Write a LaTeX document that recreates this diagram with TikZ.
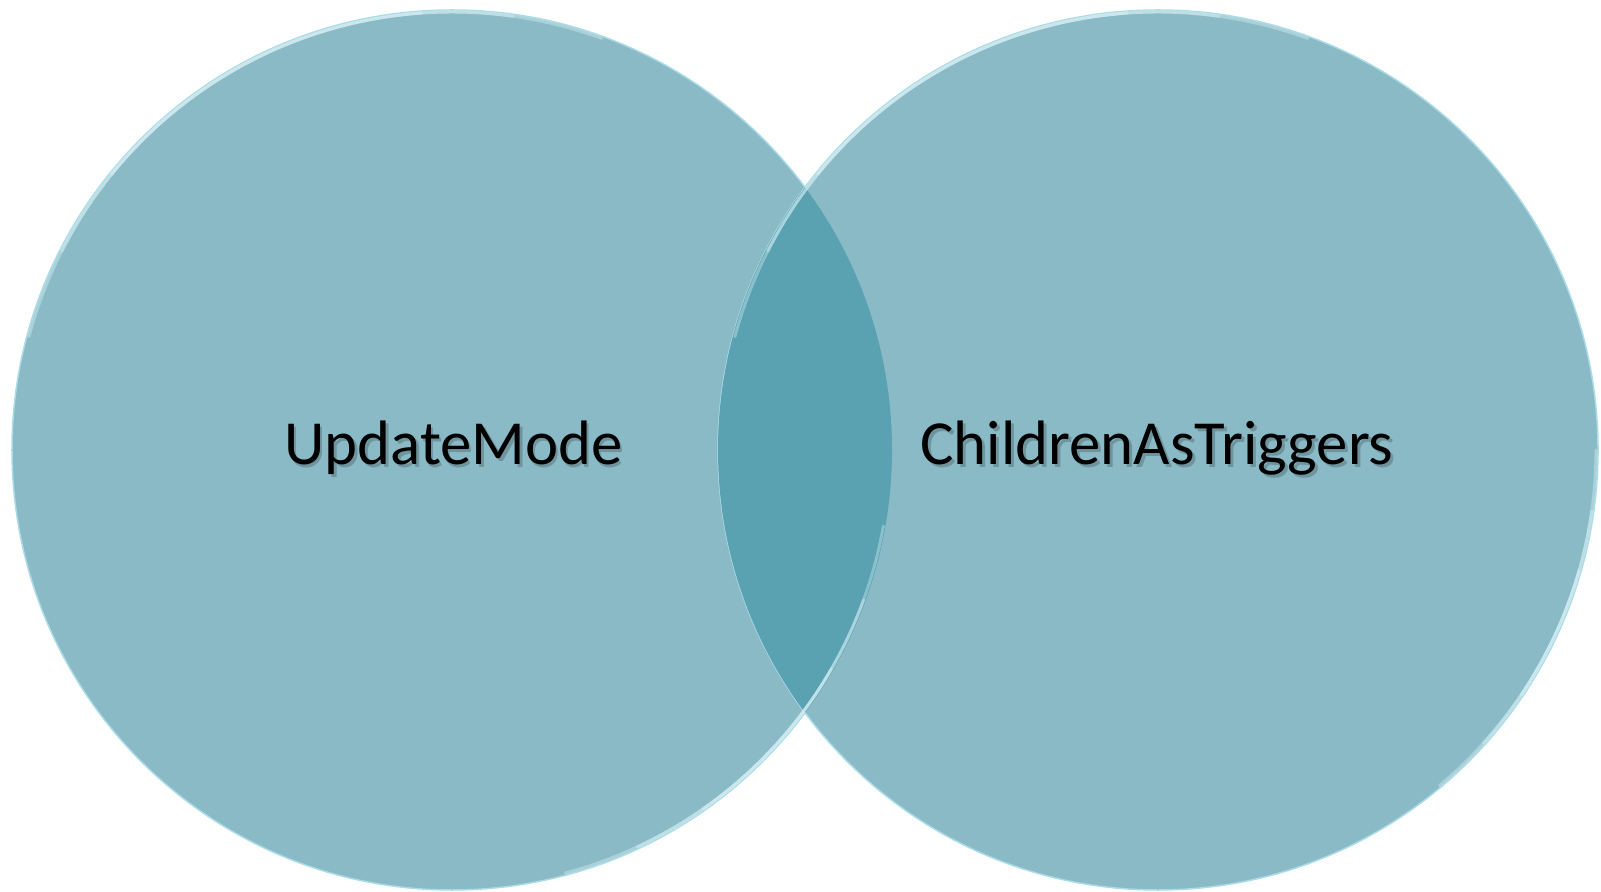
\documentclass[tikz,border=0pt]{standalone}
\usepackage{fontspec}
\setmainfont{Carlito}
\definecolor{disc}{HTML}{8BBAC7}
\definecolor{lens}{HTML}{5AA1B1}
\definecolor{rim}{HTML}{A9DCE6}
\definecolor{glow}{HTML}{E6FAFD}
\tikzset{
  setdisc/.style={circle, minimum size=880bp, inner sep=0pt, fill=disc, draw=rim, line width=1.5bp},
  label/.style={font=\fontsize{63}{70}\selectfont, text=black, anchor=base},
  shade/.style={font=\fontsize{63}{70}\selectfont, text=black!40!disc, anchor=base, opacity=0.5},
  gloss/.style={glow, line width=3bp, line cap=round, opacity=0.35}
}
\newcommand{\glossarc}[4]{%
  \draw[gloss] ([shift={(#2:438)}]#1) arc (#2:#3:438);
  \draw[gloss] ([shift={(#2+#4:438)}]#1) arc (#2+#4:#3-#4:438);
  \draw[gloss] ([shift={(#2+2*#4:438)}]#1) arc (#2+2*#4:#3-2*#4:438);
}
\begin{document}
\begin{tikzpicture}[x=1bp,y=1bp]
\useasboundingbox (0,0) rectangle (1601,891);
\node[setdisc] (L) at (452,441) {};
\node[setdisc] (R) at (1158,441) {};
\begin{scope}
  \clip (452,441) circle (440);
  \fill[lens] (1158,441) circle (440);
\end{scope}
% glossy rims
\glossarc{452,441}{70}{165}{12}
\glossarc{1158,441}{70}{165}{12}
\glossarc{452,441}{-10}{-75}{-10}
\glossarc{1158,441}{0}{-50}{-8}
% texts
\node[shade] at (456,423) {UpdateMode};
\node[shade] at (1160,423) {ChildrenAsTriggers};
\node[label] (tL) at (453.5,426) {UpdateMode};
\node[label] (tR) at (1157,426) {ChildrenAsTriggers};
\end{tikzpicture}
\end{document}
